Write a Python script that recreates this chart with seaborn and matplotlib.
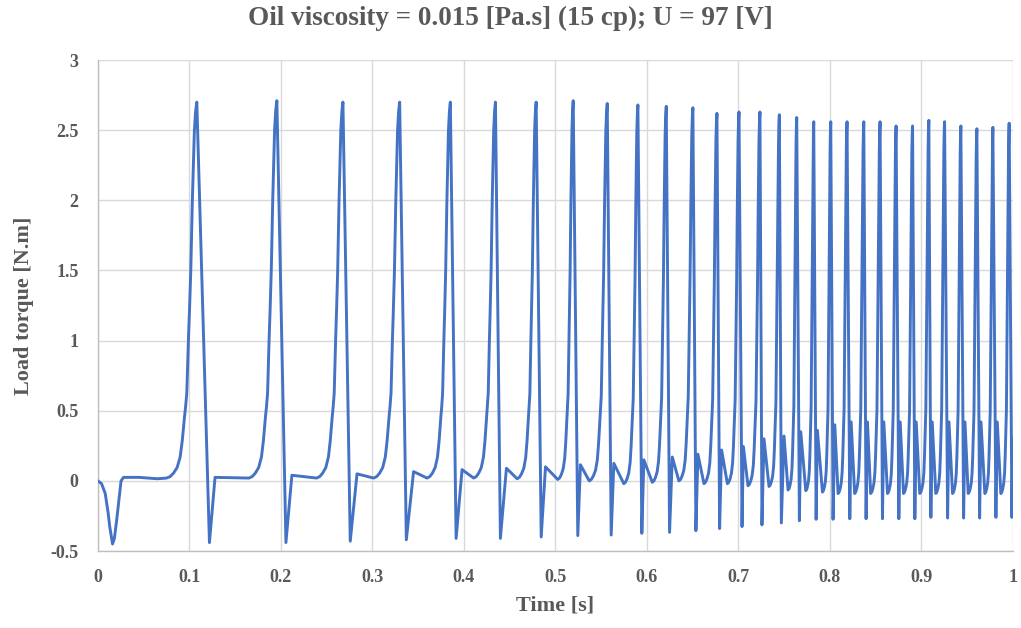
import numpy as np
import pandas as pd
import matplotlib
matplotlib.use("Agg")
import matplotlib.pyplot as plt
import seaborn as sns

# ---- data ----
# start-up transient (time [s], torque [N.m])
init_t = [0.0, 0.004, 0.008, 0.011, 0.013, 0.016, 0.018, 0.0205, 0.0253, 0.028, 0.045, 0.065]
init_y = [0.0, -0.02, -0.09, -0.22, -0.33, -0.45, -0.41, -0.28, 0.0, 0.025, 0.025, 0.015]

# local minimum before each rise
valley_t = [0.075, 0.165, 0.239, 0.3013, 0.3597, 0.4107, 0.4582, 0.5026, 0.537, 0.5748,
            0.6059, 0.6350, 0.6624, 0.6880, 0.7105, 0.7335, 0.7543, 0.7737, 0.7919, 0.8090,
            0.8271, 0.8446, 0.8630, 0.8805, 0.8983, 0.9158, 0.9341, 0.9512, 0.9694, 0.9869]
valley_y = [0.02, 0.02, 0.02, 0.02, 0.02, 0.02, 0.015, 0.01, 0.0, -0.02,
            -0.01, 0.0, -0.02, -0.02, -0.035, -0.04, -0.065, -0.07, -0.08, -0.09,
            -0.09, -0.09, -0.09, -0.09, -0.09, -0.09, -0.09, -0.09, -0.09, -0.09]

# peaks
peak_t = [0.1081, 0.1956, 0.2678, 0.3298, 0.3852, 0.4345, 0.4790, 0.5195, 0.5567, 0.5902,
          0.6212, 0.6503, 0.6766, 0.7007, 0.7236, 0.7448, 0.7638, 0.7824, 0.8010, 0.8188,
          0.8371, 0.8549, 0.8724, 0.8904, 0.9082, 0.9254, 0.9432, 0.9607, 0.9782, 0.9960]
peak_y = [2.70, 2.71, 2.70, 2.70, 2.70, 2.70, 2.70, 2.71, 2.69, 2.68,
          2.67, 2.66, 2.62, 2.63, 2.63, 2.61, 2.59, 2.56, 2.56, 2.56,
          2.56, 2.56, 2.53, 2.53, 2.57, 2.56, 2.53, 2.51, 2.52, 2.55]

# negative spike after each peak
trough_t = [0.1219, 0.2055, 0.2758, 0.3371, 0.3915, 0.4399, 0.4845, 0.5245, 0.5610, 0.5945,
            0.6248, 0.6536, 0.6795, 0.7040, 0.7258, 0.7470, 0.7667, 0.7850, 0.8035, 0.8218,
            0.8396, 0.8575, 0.8754, 0.8929, 0.9104, 0.9287, 0.9462, 0.9637, 0.9815, 0.9990]
trough_y = [-0.44, -0.44, -0.43, -0.42, -0.41, -0.41, -0.40, -0.39, -0.386, -0.374,
            -0.367, -0.355, -0.34, -0.326, -0.314, -0.30, -0.284, -0.274, -0.274, -0.27,
            -0.27, -0.27, -0.27, -0.27, -0.26, -0.265, -0.265, -0.265, -0.26, -0.26]

# rebound after each negative spike
bump_t = [0.128, 0.212, 0.2832, 0.3450, 0.3980, 0.4465, 0.4892, 0.5274, 0.5639, 0.5967,
          0.6278, 0.6558, 0.6817, 0.7055, 0.7280, 0.7499, 0.7682, 0.7864, 0.8054, 0.8233,
          0.8411, 0.8590, 0.8769, 0.8944, 0.9119, 0.9302, 0.9477, 0.9652, 0.9830, 1.0]
bump_y = [0.025, 0.04, 0.05, 0.066, 0.08, 0.09, 0.10, 0.115, 0.125, 0.15,
          0.17, 0.19, 0.22, 0.245, 0.30, 0.32, 0.35, 0.36, 0.40, 0.42,
          0.42, 0.42, 0.42, 0.42, 0.42, 0.42, 0.42, 0.42, 0.42, 0.30]

# shape of the rise (fraction of rise time, fraction of rise height), read from first pulse
rise_s = [0.0, 0.12, 0.23, 0.35, 0.45, 0.52, 0.59, 0.63, 0.669, 0.722, 0.76, 0.80, 0.853, 0.92, 0.96, 1.0]
rise_f = [0.0, 0.004, 0.013, 0.028, 0.056, 0.10, 0.16, 0.19, 0.226, 0.366, 0.45, 0.55, 0.74, 0.925, 0.975, 1.0]

x_ticks = [0, 0.1, 0.2, 0.3, 0.4, 0.5, 0.6, 0.7, 0.8, 0.9, 1]
x_tick_labels = ["0", "0.1", "0.2", "0.3", "0.4", "0.5", "0.6", "0.7", "0.8", "0.9", "1"]
y_ticks = [-0.5, 0, 0.5, 1, 1.5, 2, 2.5, 3]
y_tick_labels = ["-0.5", "0", "0.5", "1", "1.5", "2", "2.5", "3"]

# ---- assemble the trace ----
ts = list(init_t)
ys = list(init_y)
for k in range(len(peak_t)):
    tv, yv, tp, yp = valley_t[k], valley_y[k], peak_t[k], peak_y[k]
    for s, f in zip(rise_s, rise_f):
        ts.append(tv + s * (tp - tv))
        ys.append(yv + f * (yp - yv))
    ts.append(trough_t[k]); ys.append(trough_y[k])
    ts.append(bump_t[k]); ys.append(bump_y[k])

df = pd.DataFrame({"Time": ts, "Torque": ys})

sns.set_theme(style="white")
plt.rcParams["font.family"] = ["Liberation Serif", "DejaVu Serif"]
text_c = "#595959"

fig = plt.figure(figsize=(10.21, 6.28), dpi=100)
ax = fig.add_axes([0.0959, 0.1226, 0.8961, 0.7818])

sns.lineplot(data=df, x="Time", y="Torque", sort=False, estimator=None,
             color="#4472C4", linewidth=2.1, ax=ax, zorder=3)

ax.set_xlim(0, 1)
ax.set_ylim(-0.5, 3)
ax.set_xticks(x_ticks)
ax.set_xticklabels(x_tick_labels)
ax.set_yticks(y_ticks)
ax.set_yticklabels(y_tick_labels)
ax.grid(True, color="#d9d9d9", linewidth=1.0, zorder=0)
ax.set_axisbelow(True)
for side in ["top", "right"]:
    ax.spines[side].set_visible(False)
for side in ["left", "bottom"]:
    ax.spines[side].set_color("#bfbfbf")
    ax.spines[side].set_linewidth(1.0)
ax.tick_params(axis="x", length=0, labelsize=13, labelcolor=text_c, pad=13)
ax.tick_params(axis="y", length=0, labelsize=13, labelcolor=text_c, pad=14)
for lab in ax.get_xticklabels() + ax.get_yticklabels():
    lab.set_fontweight("bold")

ax.set_xlabel("Time [s]", fontsize=16, fontweight="bold", color=text_c, labelpad=7)
ax.set_ylabel("Load torque [N.m]", fontsize=16, fontweight="bold", color=text_c, labelpad=12)
fig.suptitle("Oil viscosity = 0.015 [Pa.s] (15 cp); U = 97 [V]", x=0.5, y=0.99,
             fontsize=19.5, fontweight="bold", color=text_c)

fig.savefig("out.png", dpi=100, facecolor="white")
